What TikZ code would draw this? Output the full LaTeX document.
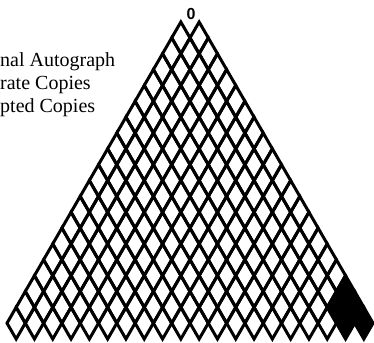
\documentclass[tikz,border=0pt]{standalone}
\usepackage{fontspec}
\setmainfont{Liberation Serif}
\newfontfamily\rootfont{Liberation Sans}
\usetikzlibrary{positioning}
\tikzset{
  cell/.style={draw=black,line width=3pt,line join=miter},
  copiedcell/.style={cell,fill=black},
  legend/.style={anchor=base west,inner sep=0pt,font=\fontsize{20}{23}\selectfont},
  rootlabel/.style={inner sep=0pt,font=\rootfont\bfseries\fontsize{16}{16}\selectfont},
}
\newcommand{\cellw}{18.3}
\newcommand{\cellh}{31.7}

\begin{document}
\begin{tikzpicture}[x=1pt,y=-1pt]
\useasboundingbox (0,0) rectangle (374,342);

% legend, cut at the left edge
\node[legend] (orig) at (0,67) {nal Autograph};
\node[legend] (accurate) at ([yshift=-23pt]orig.base west) {rate Copies};
\node[legend] (corrupt) at ([yshift=-23pt]accurate.base west) {pted Copies};

% lattice of cells, row k has k+1 cells
\foreach \k in {1,...,19}{
  \foreach \j in {0,...,\k}{
    \pgfmathsetmacro{\cx}{190+(\j-\k/2)*\cellw}
    \pgfmathsetmacro{\cy}{22+\k*\cellh/2}
    \pgfmathtruncatemacro{\isblack}{and(\j>16,\k-\j<2)}
    \ifnum\isblack=1 \def\sty{copiedcell}\else\def\sty{cell}\fi
    \draw[\sty] (\cx,\cy-\cellh/2) -- (\cx+\cellw/2,\cy) -- (\cx,\cy+\cellh/2) -- (\cx-\cellw/2,\cy) -- cycle;
  }
}

\node[rootlabel] (root) at (191,14) {0};

\end{tikzpicture}
\end{document}
